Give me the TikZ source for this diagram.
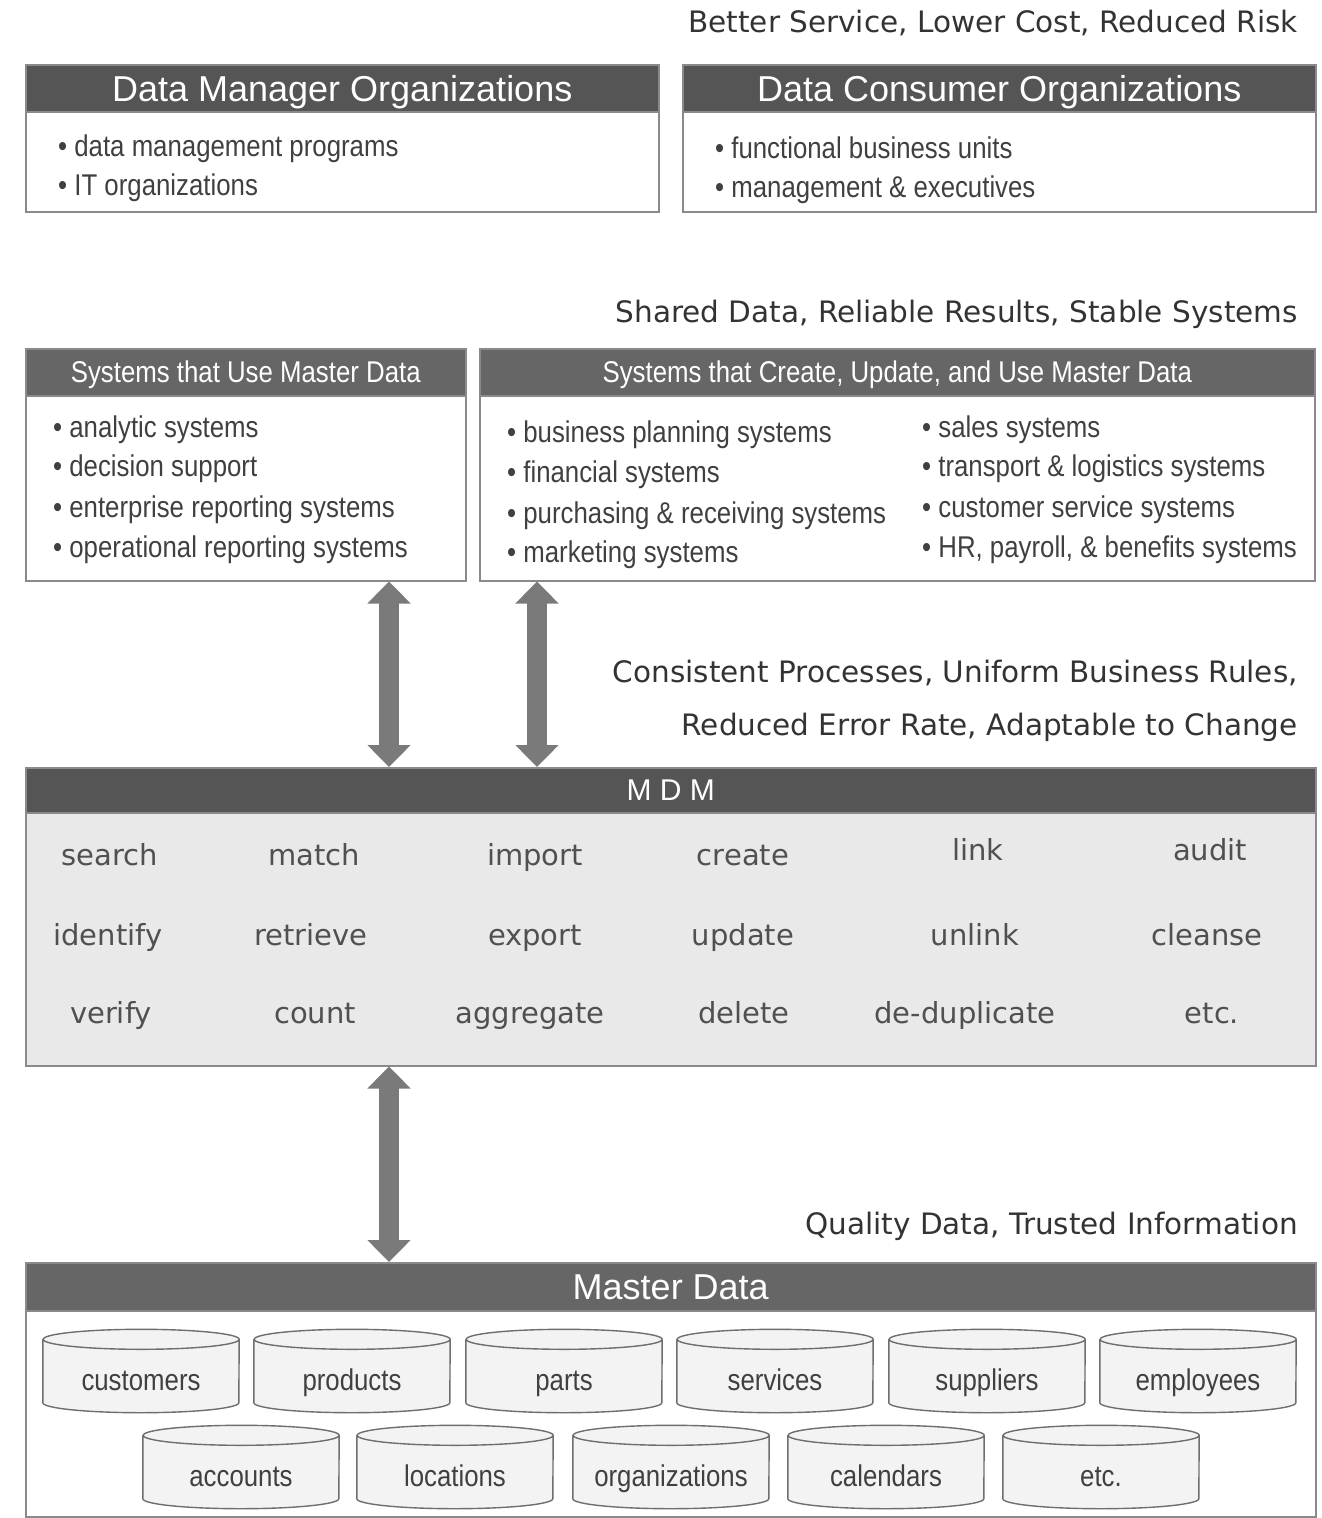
\documentclass[tikz,border=0pt]{standalone}
\usepackage{fontspec}
\setmainfont{Liberation Sans}
\newfontfamily\narrowfont{Liberation Sans}[FakeStretch=0.86]
\newfontfamily\handfont{DejaVu Sans}
\usetikzlibrary{arrows.meta,calc}

\definecolor{hdrdark}{HTML}{555555}
\definecolor{hdrmid}{HTML}{666666}
\definecolor{frame}{HTML}{8A8A8A}
\definecolor{bodygrey}{HTML}{E9E9E9}
\definecolor{drumfill}{HTML}{F3F3F3}
\definecolor{drumline}{HTML}{6E6E6E}
\definecolor{arrowgrey}{HTML}{7A7A7A}
\definecolor{inktext}{HTML}{404040}
\definecolor{slogan}{HTML}{333333}
\definecolor{opgrey}{HTML}{505050}

% outline of a database drum drawn around a rectangular node
\newcommand\drum[1]{%
  \fill[drumfill] (#1.north west) -- (#1.south west)
    arc[start angle=180,end angle=360,x radius=98pt,y radius=10pt]
    -- (#1.north east)
    arc[start angle=0,end angle=180,x radius=98pt,y radius=10pt] -- cycle;
  \draw[drumline,line width=1.4pt] (#1.north west) -- (#1.south west)
    arc[start angle=180,end angle=360,x radius=98pt,y radius=10pt]
    -- (#1.north east)
    arc[start angle=0,end angle=360,x radius=98pt,y radius=10pt];
}

\begin{document}
\begin{tikzpicture}[x=1pt,y=-1pt,
  panel/.style={draw=frame,line width=1.5pt,fill=white,inner sep=0pt,anchor=north west},
  hdrbar/.style={fill=hdrdark,draw=frame,line width=1.5pt,inner sep=0pt,anchor=north west,text=white},
  bigtitle/.style={font=\fontsize{36}{40}\selectfont,text height=26pt,text depth=0pt},
  smalltitle/.style={font=\narrowfont\fontsize{30}{34}\selectfont,text height=22pt,text depth=2pt},
  item/.style={anchor=west,inner sep=0pt,text=inktext,text height=24pt,text depth=3pt,
    font=\narrowfont\fontsize{30}{34}\selectfont},
  motto/.style={anchor=east,inner sep=0pt,text=slogan,text height=22pt,text depth=2pt,
    font=\handfont\fontsize{29.5}{32}\selectfont},
  op/.style={inner sep=0pt,text=opgrey,text height=22pt,text depth=2pt,
    font=\handfont\fontsize{29}{32}\selectfont},
  drumnode/.style={minimum width=196pt,minimum height=63pt,inner sep=0pt,text=inktext,
    text height=22pt,text depth=7pt,font=\narrowfont\fontsize{30}{34}\selectfont},
  twoway/.style={arrowgrey,line width=20pt,
    {Triangle[length=22pt,width=42pt]}-{Triangle[length=22pt,width=42pt]}},
]
\useasboundingbox (0,0) rectangle (1322,1518);
\fill[white] (0,0) rectangle (1322,1518);

% ---------- organizations ----------
\node[motto] (m1) at (1298,22) {Better Service, Lower Cost, Reduced Risk};

\node[panel,minimum width=633pt,minimum height=147pt] (dmo) at (25,64) {};
\node[hdrbar,bigtitle,minimum width=633pt,minimum height=47pt] (dmoh) at (dmo.north west) {Data Manager Organizations};
\node[item] (dmo1) at (58,146) {• data management programs};
\node[item] (dmo2) at (58,185) {• IT organizations};

\node[panel,minimum width=633pt,minimum height=147pt] (dco) at (682,64) {};
\node[hdrbar,bigtitle,minimum width=633pt,minimum height=47pt] (dcoh) at (dco.north west) {Data Consumer Organizations};
\node[item] (dco1) at (715,148) {• functional business units};
\node[item] (dco2) at (715,187) {• management \& executives};

% ---------- systems ----------
\node[motto] (m2) at (1298,312) {Shared Data, Reliable Results, Stable Systems};

\node[panel,minimum width=440pt,minimum height=232pt] (sys1) at (25,348) {};
\node[hdrbar,smalltitle,fill=hdrmid,minimum width=440pt,minimum height=47pt] (sys1h) at (sys1.north west) {Systems that Use Master Data};
\node[item] (s11) at (53,427) {• analytic systems};
\node[item] (s12) at (53,466) {• decision support};
\node[item] (s13) at (53,507) {• enterprise reporting systems};
\node[item] (s14) at (53,547) {• operational reporting systems};

\node[panel,minimum width=835pt,minimum height=232pt] (sys2) at (479,348) {};
\node[hdrbar,smalltitle,fill=hdrmid,minimum width=835pt,minimum height=47pt] (sys2h) at (sys2.north west) {Systems that Create, Update, and Use Master Data};
\node[item] (s21) at (507,432) {• business planning systems};
\node[item] (s22) at (507,472) {• financial systems};
\node[item] (s23) at (507,513) {• purchasing \& receiving systems};
\node[item] (s24) at (507,552) {• marketing systems};
\node[item] (s25) at (922,427) {• sales systems};
\node[item] (s26) at (922,466) {• transport \& logistics systems};
\node[item] (s27) at (922,507) {• customer service systems};
\node[item] (s28) at (922,547) {• HR, payroll, \& benefits systems};

% ---------- MDM ----------
\node[motto] (m3) at (1298,672) {Consistent Processes, Uniform Business Rules,};
\node[motto] (m4) at (1298,725) {Reduced Error Rate, Adaptable to Change};

\node[panel,fill=bodygrey,minimum width=1290pt,minimum height=298pt] (mdm) at (25,767) {};
\node[hdrbar,font=\fontsize{30}{34}\selectfont,minimum width=1290pt,minimum height=45pt] (mdmh) at (mdm.north west) {M D M};

\node[op] (o11) at (110,855) {search};
\node[op] (o12) at (314,855) {match};
\node[op] (o13) at (535,855) {import};
\node[op] (o14) at (743,855) {create};
\node[op] (o15) at (978,850) {link};
\node[op] (o16) at (1210,850) {audit};
\node[op] (o21) at (108,935) {identify};
\node[op] (o22) at (311,935) {retrieve};
\node[op] (o23) at (535,935) {export};
\node[op] (o24) at (743,935) {update};
\node[op] (o25) at (975,935) {unlink};
\node[op] (o26) at (1207,935) {cleanse};
\node[op] (o31) at (111,1013) {verify};
\node[op] (o32) at (315,1013) {count};
\node[op] (o33) at (530,1013) {aggregate};
\node[op] (o34) at (744,1013) {delete};
\node[op] (o35) at (965,1013) {de-duplicate};
\node[op] (o36) at (1212,1013) {etc.};

% ---------- master data ----------
\node[motto] (m5) at (1298,1224) {Quality Data, Trusted Information};

\node[panel,minimum width=1290pt,minimum height=254pt] (mst) at (25,1262) {};
\node[hdrbar,bigtitle,fill=hdrmid,minimum width=1290pt,minimum height=48pt] (msth) at (mst.north west) {Master Data};

\foreach \n/\x/\t in {d1/141/customers,d2/352/products,d3/564/parts,d4/775/services,d5/987/suppliers,d6/1198/employees}{
  \node[drumnode] (\n) at (\x,1371) {};
  \drum{\n}
  \node[drumnode] at (\x,1383) {\t};
}
\foreach \n/\x/\t in {d7/241/accounts,d8/455/locations,d9/671/organizations,d10/886/calendars,d11/1101/etc.}{
  \node[drumnode] (\n) at (\x,1467) {};
  \drum{\n}
  \node[drumnode] at (\x,1479) {\t};
}

% ---------- two-way connectors ----------
\coordinate (ax1) at (389,0);
\coordinate (ax2) at (537,0);
\draw[twoway] (sys1.south -| ax1) -- (mdm.north -| ax1);
\draw[twoway] (sys2.south -| ax2) -- (mdm.north -| ax2);
\draw[twoway] (mdm.south -| ax1) -- (mst.north -| ax1);
\end{tikzpicture}
\end{document}
